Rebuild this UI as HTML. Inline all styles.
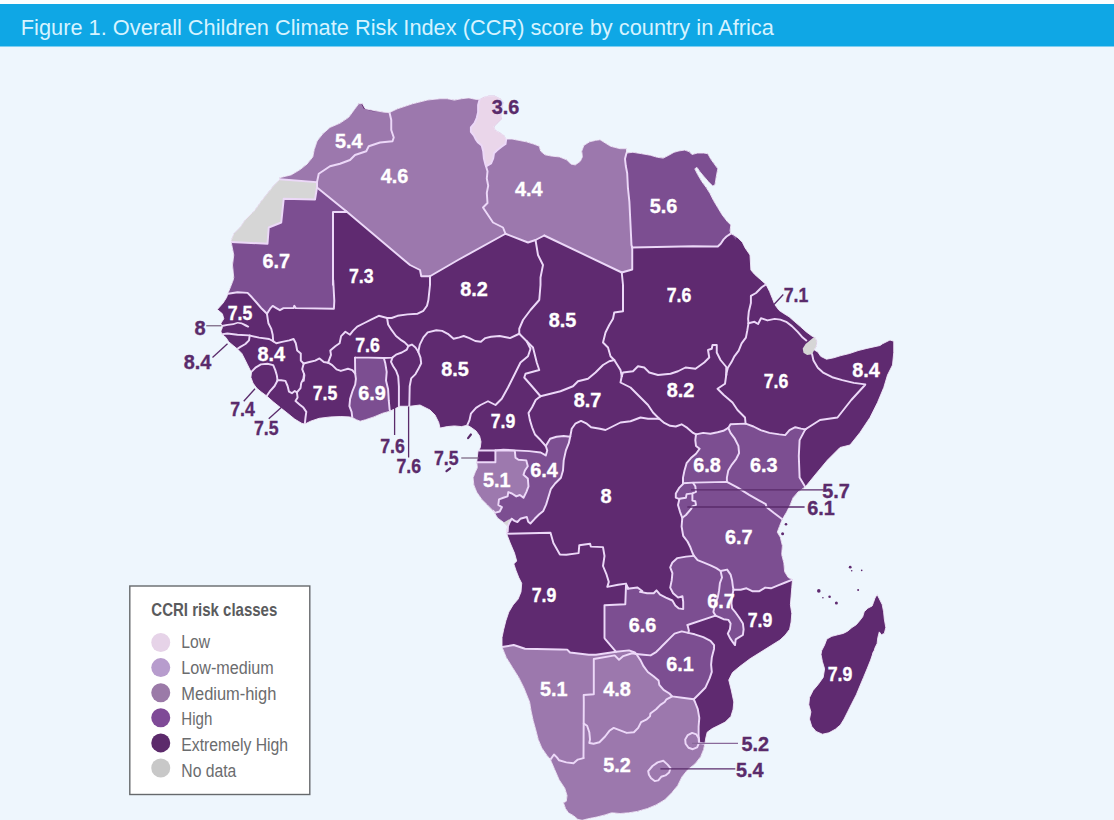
<!DOCTYPE html>
<html><head><meta charset="utf-8"><title>Figure 1</title>
<style>html,body{margin:0;padding:0;background:#eef6fd}svg{display:block}text{font-family:"Liberation Sans",sans-serif}</style></head>
<body>
<svg width="1114" height="820" viewBox="0 0 1114 820">
<rect width="1114" height="820" fill="#eef6fd"/>
<rect x="0" y="0" width="1114" height="4" fill="#fcfeff"/>
<rect x="0" y="4" width="1114" height="42.5" fill="#0fa7e5"/>
<text x="20.8" y="35" font-size="22.4" fill="#d6f3ff" textLength="753" lengthAdjust="spacingAndGlyphs" style="font-weight:400">Figure 1. Overall Children Climate Risk Index (CCR) score by country in Africa</text>
<defs><clipPath id="land"><path d="M362.4 103.6 L365.3 108.7 L371.8 110.1 L385 112.3 L389.5 112.5 L397.5 108.75 L412.5 103.75 L427.5 100 L440 98.7 L447.2 98.7 L454.4 100.1 L461.6 98.7 L468.8 97.9 L476 99.4 L479.6 99.4 L483.2 97.2 L488.9 95.8 L494.7 95.8 L500.4 98.7 L503.3 102.3 L502.6 108 L501.2 113.8 L501.9 118.8 L497.6 123.1 L494 126.7 L495.4 130.3 L499.7 132.5 L504 135.4 L506.2 139 L511.9 139 L519.1 140.4 L526.3 141.8 L533.5 144 L539.3 146.2 L540.7 151.2 L545 154.8 L552.2 156.2 L559.4 156.9 L566.6 159.8 L570.9 164.1 L575.3 164.9 L580.3 161.3 L582.4 156.9 L581.7 151.2 L583.9 145.4 L589.6 141.8 L595.4 140.4 L600 139.7 L610.5 146.25 L620 148.7 L626.5 148.7 L626.5 153 L632.9 152.3 L641.6 153.7 L650.2 155.2 L657.4 157.3 L663.2 158.1 L668.9 155.2 L674 152.3 L679 150.9 L684.7 150.1 L689.1 151.6 L691.9 154.5 L697.7 153 L703.5 153 L707.8 153.7 L710.6 158.8 L714.2 163.8 L717.8 168.8 L716.4 176 L715 184.7 L712.8 186.1 L708.5 181.8 L704.2 176.8 L699.9 171.7 L697 167.4 L694.8 168.8 L697.7 174.6 L702 181.8 L706.3 187.6 L709.9 193.3 L713.5 200.5 L717.8 207.7 L722.2 214.9 L727.2 221.4 L730.8 225 L730.1 230.7 L730.8 233.6 L733.7 235 L738 237.9 L742.3 242.2 L745.2 248 L750 255 L750.9 270 L754.5 274.3 L760.3 279.4 L766 284.4 L769.6 291.6 L772.5 298.8 L774.7 304.5 L779 310.3 L783.3 313.2 L789.1 316.8 L794.8 321.8 L800.6 326.8 L806.3 331.9 L812.1 336.2 L815 337.6 L817.1 341.2 L816.4 346.3 L814.2 349.9 L817.8 352 L820.7 356.3 L826.5 359.2 L833.7 357.8 L840.9 355.6 L849.5 353.5 L858.1 350.6 L866.8 348.4 L880 345.5 L882.5 343.75 L890 340 L893.75 341.25 L893.75 352.5 L892.5 365 L887.5 375 L883.75 387.5 L877.5 402.5 L870 417.5 L860 432.5 L850 445 L840 447.5 L827.5 460 L815 475 L805.3 486.9 L798.1 491.9 L793.1 497.7 L790.2 504.9 L786.6 512.1 L782.3 519.3 L779.4 526.5 L777.3 532.2 L780.3 537.2 L782.4 545.8 L781.7 554.5 L783.9 563.1 L784.6 571.7 L788.2 577.5 L792.5 579.6 L791.8 587.6 L791.1 596.2 L790.4 604.8 L791.8 613.5 L791.1 622.1 L789.6 629.3 L785.3 635 L780 640 L770 646.25 L760 652.5 L750 658.75 L740 666.25 L732.5 672.5 L728.75 680 L731.25 690 L733.8 702 L733.1 709.2 L730.9 716.4 L725.2 722.1 L718 725.7 L712.2 728.6 L707.2 732.2 L705.8 738 L705 743 L703.6 749.5 L700.7 756.7 L695 763.9 L687.8 769.6 L682 776.8 L677.7 785.5 L671.9 792.6 L664.7 799.8 L656.1 804.9 L647.5 808.5 L637.4 811.4 L628.8 812.8 L620.1 813.5 L611.5 812.8 L605.1 814.9 L596.5 817.1 L587.8 818.8 L582.1 820.3 L577.8 819.3 L573.5 815.7 L568.4 812.8 L565.5 808.5 L563.4 802.7 L566.3 801.3 L567 795.5 L564.8 788.3 L559.1 779.7 L554.7 769.6 L550.4 759.6 L546.8 755.2 L541.8 748 L538.2 739.4 L536 730.8 L533.2 720.7 L531 710.6 L529.6 702 L523.75 687.5 L518.75 677.5 L512.5 667.5 L506.25 657.5 L502 647 L502 637.5 L503.7 629.4 L505.9 620.7 L508.8 612.1 L513.1 604.9 L518.1 599.1 L521 591.9 L521.7 583.3 L518.8 577.6 L516 570.4 L513.8 563.9 L516.7 561 L514.5 553.1 L510.2 543 L506.6 533.7 L506.25 531.25 L507.5 526.25 L503.75 522.5 L497.6 518 L493.2 510.8 L487.5 505 L481.7 499.3 L476.7 492.1 L473.8 484.9 L473.1 477.7 L475.3 471.9 L477.4 467.6 L476.7 462.2 L478.1 450.4 L478.8 450.4 L480.3 447.5 L481 441.7 L479.6 436 L476 430.9 L470.9 427.3 L467.3 425.2 L461.6 426.6 L454.4 425.9 L447.2 426.6 L440 428.1 L438.75 422.5 L435 415 L430 410 L420 405 L410 406.25 L400 406.25 L390 411.2 L382.5 413.3 L373.9 416.9 L365.3 419.8 L360.2 421.2 L356.6 419.8 L352.3 417.6 L349.4 416.9 L340.8 416.5 L330.7 416.9 L319.2 418.3 L310.6 421.2 L304.8 424.1 L301.9 423.4 L294.7 419.1 L287.6 413.3 L280.4 407.6 L273.2 401.8 L266.7 396 L260.9 391.7 L256.6 388.1 L253 383.1 L250.9 377.3 L251.6 371.6 L250.4 370.6 L247.6 364.9 L244.7 359.1 L241.8 353.4 L237.5 349.1 L233.2 345.5 L228.8 341.9 L226 337.6 L221.7 334 L220.9 331.1 L222.4 327.5 L220.9 323.2 L223.8 318.8 L222.4 313.8 L217.3 309.5 L223.1 303 L226.7 297.3 L228.1 292.9 L231 285.8 L233.2 280 L233.75 277.5 L232.5 265 L233.75 255 L231.25 242.5 L231.25 240 L233.75 233.75 L240 227.5 L245 220 L252.5 212.5 L253.8 211.5 L261 201.5 L266.7 194.3 L272.5 187.1 L279.7 179.2 L279.7 177.7 L291.2 174.9 L299.8 169.8 L307 164.1 L312.8 156.9 L314.2 149.7 L317.1 141 L322.8 133.8 L330 127.4 L340.1 123.1 L348.7 117.3 L354.5 109.4 L358.8 103.6Z"/></clipPath></defs>
<path d="M362.4 103.6 L365.3 108.7 L371.8 110.1 L385 112.3 L389.5 112.5 L397.5 108.75 L412.5 103.75 L427.5 100 L440 98.7 L447.2 98.7 L454.4 100.1 L461.6 98.7 L468.8 97.9 L476 99.4 L479.6 99.4 L483.2 97.2 L488.9 95.8 L494.7 95.8 L500.4 98.7 L503.3 102.3 L502.6 108 L501.2 113.8 L501.9 118.8 L497.6 123.1 L494 126.7 L495.4 130.3 L499.7 132.5 L504 135.4 L506.2 139 L511.9 139 L519.1 140.4 L526.3 141.8 L533.5 144 L539.3 146.2 L540.7 151.2 L545 154.8 L552.2 156.2 L559.4 156.9 L566.6 159.8 L570.9 164.1 L575.3 164.9 L580.3 161.3 L582.4 156.9 L581.7 151.2 L583.9 145.4 L589.6 141.8 L595.4 140.4 L600 139.7 L610.5 146.25 L620 148.7 L626.5 148.7 L626.5 153 L632.9 152.3 L641.6 153.7 L650.2 155.2 L657.4 157.3 L663.2 158.1 L668.9 155.2 L674 152.3 L679 150.9 L684.7 150.1 L689.1 151.6 L691.9 154.5 L697.7 153 L703.5 153 L707.8 153.7 L710.6 158.8 L714.2 163.8 L717.8 168.8 L716.4 176 L715 184.7 L712.8 186.1 L708.5 181.8 L704.2 176.8 L699.9 171.7 L697 167.4 L694.8 168.8 L697.7 174.6 L702 181.8 L706.3 187.6 L709.9 193.3 L713.5 200.5 L717.8 207.7 L722.2 214.9 L727.2 221.4 L730.8 225 L730.1 230.7 L730.8 233.6 L733.7 235 L738 237.9 L742.3 242.2 L745.2 248 L750 255 L750.9 270 L754.5 274.3 L760.3 279.4 L766 284.4 L769.6 291.6 L772.5 298.8 L774.7 304.5 L779 310.3 L783.3 313.2 L789.1 316.8 L794.8 321.8 L800.6 326.8 L806.3 331.9 L812.1 336.2 L815 337.6 L817.1 341.2 L816.4 346.3 L814.2 349.9 L817.8 352 L820.7 356.3 L826.5 359.2 L833.7 357.8 L840.9 355.6 L849.5 353.5 L858.1 350.6 L866.8 348.4 L880 345.5 L882.5 343.75 L890 340 L893.75 341.25 L893.75 352.5 L892.5 365 L887.5 375 L883.75 387.5 L877.5 402.5 L870 417.5 L860 432.5 L850 445 L840 447.5 L827.5 460 L815 475 L805.3 486.9 L798.1 491.9 L793.1 497.7 L790.2 504.9 L786.6 512.1 L782.3 519.3 L779.4 526.5 L777.3 532.2 L780.3 537.2 L782.4 545.8 L781.7 554.5 L783.9 563.1 L784.6 571.7 L788.2 577.5 L792.5 579.6 L791.8 587.6 L791.1 596.2 L790.4 604.8 L791.8 613.5 L791.1 622.1 L789.6 629.3 L785.3 635 L780 640 L770 646.25 L760 652.5 L750 658.75 L740 666.25 L732.5 672.5 L728.75 680 L731.25 690 L733.8 702 L733.1 709.2 L730.9 716.4 L725.2 722.1 L718 725.7 L712.2 728.6 L707.2 732.2 L705.8 738 L705 743 L703.6 749.5 L700.7 756.7 L695 763.9 L687.8 769.6 L682 776.8 L677.7 785.5 L671.9 792.6 L664.7 799.8 L656.1 804.9 L647.5 808.5 L637.4 811.4 L628.8 812.8 L620.1 813.5 L611.5 812.8 L605.1 814.9 L596.5 817.1 L587.8 818.8 L582.1 820.3 L577.8 819.3 L573.5 815.7 L568.4 812.8 L565.5 808.5 L563.4 802.7 L566.3 801.3 L567 795.5 L564.8 788.3 L559.1 779.7 L554.7 769.6 L550.4 759.6 L546.8 755.2 L541.8 748 L538.2 739.4 L536 730.8 L533.2 720.7 L531 710.6 L529.6 702 L523.75 687.5 L518.75 677.5 L512.5 667.5 L506.25 657.5 L502 647 L502 637.5 L503.7 629.4 L505.9 620.7 L508.8 612.1 L513.1 604.9 L518.1 599.1 L521 591.9 L521.7 583.3 L518.8 577.6 L516 570.4 L513.8 563.9 L516.7 561 L514.5 553.1 L510.2 543 L506.6 533.7 L506.25 531.25 L507.5 526.25 L503.75 522.5 L497.6 518 L493.2 510.8 L487.5 505 L481.7 499.3 L476.7 492.1 L473.8 484.9 L473.1 477.7 L475.3 471.9 L477.4 467.6 L476.7 462.2 L478.1 450.4 L478.8 450.4 L480.3 447.5 L481 441.7 L479.6 436 L476 430.9 L470.9 427.3 L467.3 425.2 L461.6 426.6 L454.4 425.9 L447.2 426.6 L440 428.1 L438.75 422.5 L435 415 L430 410 L420 405 L410 406.25 L400 406.25 L390 411.2 L382.5 413.3 L373.9 416.9 L365.3 419.8 L360.2 421.2 L356.6 419.8 L352.3 417.6 L349.4 416.9 L340.8 416.5 L330.7 416.9 L319.2 418.3 L310.6 421.2 L304.8 424.1 L301.9 423.4 L294.7 419.1 L287.6 413.3 L280.4 407.6 L273.2 401.8 L266.7 396 L260.9 391.7 L256.6 388.1 L253 383.1 L250.9 377.3 L251.6 371.6 L250.4 370.6 L247.6 364.9 L244.7 359.1 L241.8 353.4 L237.5 349.1 L233.2 345.5 L228.8 341.9 L226 337.6 L221.7 334 L220.9 331.1 L222.4 327.5 L220.9 323.2 L223.8 318.8 L222.4 313.8 L217.3 309.5 L223.1 303 L226.7 297.3 L228.1 292.9 L231 285.8 L233.2 280 L233.75 277.5 L232.5 265 L233.75 255 L231.25 242.5 L231.25 240 L233.75 233.75 L240 227.5 L245 220 L252.5 212.5 L253.8 211.5 L261 201.5 L266.7 194.3 L272.5 187.1 L279.7 179.2 L279.7 177.7 L291.2 174.9 L299.8 169.8 L307 164.1 L312.8 156.9 L314.2 149.7 L317.1 141 L322.8 133.8 L330 127.4 L340.1 123.1 L348.7 117.3 L354.5 109.4 L358.8 103.6Z" fill="#5f2a70"/>
<path d="M877.1 594.5 L879.3 598.8 L882.2 604.6 L883.6 611.8 L884.3 619 L885.8 627.6 L884.3 633.4 L881.4 634.8 L879.3 631.9 L877.8 637.7 L877.1 643.5 L875 647.8 L872.8 655 L873.5 651.5 L870.6 660.1 L867.1 668.8 L863.5 677.4 L859.9 686 L856.3 694.7 L851.9 703.3 L847.6 711.9 L844 719.1 L840.4 724.9 L835.4 729.2 L828.9 732.8 L822.4 734.2 L816 731.4 L811.7 726.3 L809.5 719.1 L810.9 711.9 L808.8 704.7 L809.5 697.6 L813.1 690.4 L818.1 684.6 L823.2 677.4 L824.6 668.8 L822.4 661.6 L821 654.4 L821.7 650.6 L824.6 644.9 L826.8 639.1 L831.8 636.3 L837.6 634.8 L843.3 633.4 L847.6 631.2 L851.9 627.6 L856.3 624.7 L859.9 620.4 L862.7 616.8 L864.2 611.8 L867.8 608.2 L872.1 606 L873.5 602.4 L875 598.1Z" fill="#5f2a70"/>
<g clip-path="url(#land)">
<path d="M360 101.25 L363.75 108.75 L372.5 111.25 L380 111.25 L389.5 112.5 L391.25 120 L391.25 130 L393.75 137.5 L392.5 141.25 L380 142.5 L368.75 146.25 L366.25 151.25 L355 155 L350 160 L340 163.75 L330 166.25 L318.75 173.75 L317 182 L280 178.75 L275 175 L305 162.5 L315 140 L330 125 L350 115Z" fill="#9c78ad"/>
<path d="M389.5 112.5 L391.25 120 L391.25 130 L393.75 137.5 L392.5 141.25 L380 142.5 L368.75 146.25 L366.25 151.25 L355 155 L350 160 L340 163.75 L330 166.25 L318.75 173.75 L317 182 L317 187.5 L346.25 211.25 L402.5 258.75 L410 265 L420 270 L421.25 276.25 L430 276.25 L458 260 L505.5 233.75 L505.5 233.75 L503 227.5 L493 222.5 L488 215 L483 207.5 L487.5 203 L486.8 192.9 L488.2 185.7 L486.8 178.5 L487.5 171.3 L485 166.25 L486 166.3 L485.3 164.1 L483.9 158.4 L483.2 151.2 L481.7 145.4 L478.1 142.6 L476 139.7 L473.8 135.4 L470.9 131.8 L470.9 127.4 L474.5 123.1 L476.7 118.1 L478.1 112.3 L478.1 105.1 L479.6 99.4 L480.5 93.75 L458 95 L427.5 97.5 L397.5 106.25 L389.5 110Z" fill="#9c78ad"/>
<path d="M479.6 99.4 L478.1 105.1 L478.1 112.3 L476.7 118.1 L474.5 123.1 L470.9 127.4 L470.9 131.8 L473.8 135.4 L476 139.7 L478.1 142.6 L481.7 145.4 L483.2 151.2 L483.9 158.4 L485.3 164.1 L486 166.3 L486 166.3 L491.1 163.4 L493.2 158.4 L494 153.3 L496.8 150.5 L501.2 146.9 L505.5 144 L506.2 139 L508 140 L508 93.75 L480.5 93.75Z" fill="#ead6ea"/>
<path d="M506.2 139 L505.5 144 L501.2 146.9 L496.8 150.5 L494 153.3 L493.2 158.4 L491.1 163.4 L486 166.3 L487.5 171.3 L486.8 178.5 L488.2 185.7 L486.8 192.9 L487.5 203 L483 207.5 L488 215 L493 222.5 L503 227.5 L505.5 233.75 L528 242.5 L535.5 240 L544.25 235.5 L621.75 272.5 L632.25 269.5 L632.25 247.5 L632.25 247.5 L631.5 245.1 L630.8 230.7 L630.1 216.3 L629.4 201.9 L627.9 187.6 L627.2 173.2 L625.8 166 L625 158.8 L626.5 153 L626 137.5 L506 137.5Z" fill="#9c78ad"/>
<path d="M626.5 153 L625 158.8 L625.8 166 L627.2 173.2 L627.9 187.6 L629.4 201.9 L630.1 216.3 L630.8 230.7 L631.5 245.1 L632.25 247.5 L693 246.25 L712.1 246.5 L717.8 246.5 L720.7 243.7 L723.6 239.4 L726.5 236.5 L730.8 233.6 L736 240 L736 142.5 L626 142.5Z" fill="#7c4e91"/>
<path d="M280 178.75 L317 182 L317 187.5 L315 199.5 L283.75 198.75 L281.25 222.5 L268.75 227.5 L267.5 243.75 L231.25 242 L225 240 L275 175Z" fill="#d6d6d6"/>
<path d="M317 187.5 L346.25 211.25 L347 212 L333 212 L333 285 L333.2 280 L334.3 300.9 L333.9 308.8 L295.8 308.1 L294.3 305.9 L293.6 308.1 L283.5 308.1 L279.9 310.2 L276.3 308.1 L272.7 305.9 L270.6 308.1 L267 313.8 L261.9 308.8 L256.9 303 L251.9 297.3 L247.6 292.9 L237.5 292.2 L228.1 293.7 L218.8 293.7 L225 240 L231.25 242 L267.5 243.75 L268.75 227.5 L281.25 222.5 L283.75 198.75 L315 199.5Z" fill="#7c4e91"/>
<path d="M355.2 373.7 L355 357.6 L368.7 357.6 L383.8 358 L385.3 363.3 L386.7 371.9 L386 380.6 L388.1 389.2 L388.8 400.7 L389.6 409.4 L390.3 411.5 L391 420.9 L350 420.9 L351.6 411.9 L349.4 406.1 L350.1 398.9 L352.3 391.7 L355.2 384.5 L355.9 378.8Z" fill="#7c4e91"/>
<path d="M495.4 450.4 L503.3 449.6 L514.8 450.4 L529.2 451.1 L540.7 452.5 L545.8 455.4 L547.2 450.4 L545.8 446 L550.1 438.8 L556.5 436.7 L563.7 436 L570.2 436.7 L568.8 443.2 L565.9 450.4 L563.7 460.4 L563 470.5 L560.9 477.7 L555.1 483.5 L550.8 489.2 L546.2 504.4 L543.3 510.9 L539 514.5 L534.7 518.8 L530.4 523.5 L528.2 521.7 L526.8 517 L523.9 517.7 L520.3 518.8 L517.4 522 L514.5 520.9 L511.7 518.8 L495 530 L482.5 512.5 L495 480Z" fill="#7c4e91"/>
<path d="M495.4 462.2 L495.4 450.4 L496.8 450.4 L514.8 450.6 L515.5 457.6 L518.4 459.7 L526.3 460.4 L527.8 466.2 L524.9 470.5 L523.5 474.8 L527.8 478.4 L528.5 486.3 L526.3 492.1 L523.5 497.8 L519.9 495 L516.3 496.4 L511.9 493.5 L508.3 492.1 L507.6 496.4 L503.3 497.8 L499 499.3 L498.3 505 L501.9 507.2 L499.7 511.5 L494.7 512.9 L493.2 510.8 L483.2 513.7 L461.6 486.3 L468.8 462.2Z" fill="#9d79ae"/>
<path d="M503.7 522.4 L508.8 519.5 L511.7 518.8 L509.5 522.4 L508 526 L507.7 531.7 L505.9 532.4 L505.2 527.4Z" fill="#d6d6d6"/>
<path d="M696 434.4 L703.2 432.9 L710.4 433.7 L717.6 432.2 L723.3 430.8 L728.3 427.9 L730.5 424.3 L745.6 423.6 L753.5 426.5 L760.7 430.1 L769.4 432.9 L779.4 434.4 L785.2 435.1 L789.5 430.1 L795.3 427.2 L801 428.6 L805.3 429.4 L799.6 440.1 L798.8 456 L799.6 477.6 L805.3 486.9 L819.7 486.9 L782.3 520.7 L798.3 530 L798.3 579.6 L792.5 579.6 L785.3 582.5 L778.1 585.4 L770.9 588.3 L765.2 587.6 L759.4 591.2 L752.2 591.2 L746.5 588.3 L740.7 589.7 L733.5 589.7 L732.1 596.2 L731.4 603.4 L732.1 608.4 L735.7 612.7 L739.3 617.8 L742.9 623.5 L743.6 629.3 L742.9 635 L739.3 637.2 L735.7 639.4 L735 645.1 L732.8 642.2 L729.9 637.9 L727.8 633.6 L729.9 629.3 L730.6 623.5 L728.5 619.9 L723.5 619.2 L719.1 617.1 L715.5 615.6 L687.5 625 L688.9 630.7 L688.2 632.9 L694.7 634.3 L703.3 637.2 L710.5 640.8 L714.1 645.1 L714 648.9 L711.8 657.6 L711.1 664.7 L711.8 671.9 L709.6 678.4 L705.3 687.8 L698.1 695 L693.8 699.3 L682.3 697.8 L672.2 696.4 L669.4 693.5 L663.6 689.9 L659.3 684.9 L658.6 680.6 L653.5 676.3 L647.8 672 L643.5 666.2 L640.6 660.4 L636.3 654 L634.8 652.5 L629 650.4 L616.1 651.8 L605 638.8 L604.5 638 L604.5 605.2 L625.3 604.2 L626 585.5 L628.2 588.3 L637.5 587.5 L642.5 591.25 L640 591.9 L647.2 593.3 L653.7 593.3 L656.5 590.4 L660.1 594.7 L665.9 597.6 L672.4 600.5 L675.3 605.5 L678.8 608.4 L683.2 609.1 L683.2 601.9 L682.4 596.2 L678.1 597.6 L673.1 593.3 L670.2 587.6 L671.7 580.4 L672.4 573.2 L670.2 567.4 L672.4 562.4 L677.4 558.1 L686 556.6 L694 555.9 L692.5 553 L690.4 547.3 L687.5 541.5 L683.2 535.8 L681.6 526.5 L682.3 517.8 L680.1 512.1 L678 504.9 L679.4 499.1 L675.8 497.7 L675.8 493.4 L679.4 487.6 L683 484 L683 477.6 L684.5 470.4 L686.6 463.2 L690.9 458.1 L696 453.8 L699.6 448.8 L696 445.9 L695.3 440.1 L696 434.4Z" fill="#7c4e91"/>
<path d="M502 647 L513.75 645 L525 648.75 L560 649.5 L567.2 649.6 L570 652.5 L588.8 654.7 L596 654.7 L616.1 651.8 L629 650.4 L634.8 652.5 L636.3 654 L640.6 660.4 L643.5 666.2 L647.8 672 L653.5 676.3 L658.6 680.6 L659.3 684.9 L663.6 689.9 L669.4 693.5 L672.2 696.4 L682.3 697.8 L693.8 699.3 L695 702 L697.8 709.2 L699.3 717.8 L698.6 726.5 L698.6 735.1 L699.3 743 L705 743.7 L715.1 743.7 L715.1 831.5 L540 822.5 L490 647Z" fill="#9c78ad"/>
<path d="M815 337.6 L817.1 341.2 L816.4 346.3 L814.2 349.9 L812.1 354.2 L807.1 354.9 L803.5 352.7 L802.7 348.4 L805.6 344.1 L809.9 340.5 L813.5 337.6Z" fill="#d6d6d6"/>
<g fill="none" stroke="#ecd8f8" stroke-width="1.95" stroke-linejoin="round" stroke-linecap="round">
<path d="M389.5 112.5 L391.25 120 L391.25 130 L393.75 137.5 L392.5 141.25 L380 142.5 L368.75 146.25 L366.25 151.25 L355 155 L350 160 L340 163.75 L330 166.25 L318.75 173.75 L317 182"/>
<path d="M279.7 179.2 L316.4 182.1"/>
<path d="M317 182 L317 187.5 L315 199.5 L283.75 198.75 L281.25 222.5 L268.75 227.5 L267.5 243.75 L231.25 242"/>
<path d="M317 187.5 L346.25 211.25"/>
<path d="M346.25 211.25 L402.5 258.75 L410 265 L420 270 L421.25 276.25 L430 276.25"/>
<path d="M430 276.25 L458 260 L505.5 233.75"/>
<path d="M347 212 L333 212 L333 285 L333.2 280 L334.3 300.9 L333.9 308.8 L295.8 308.1 L294.3 305.9 L293.6 308.1 L283.5 308.1 L279.9 310.2 L276.3 308.1 L272.7 305.9 L270.6 308.1 L267 313.8"/>
<path d="M479.6 99.4 L478.1 105.1 L478.1 112.3 L476.7 118.1 L474.5 123.1 L470.9 127.4 L470.9 131.8 L473.8 135.4 L476 139.7 L478.1 142.6 L481.7 145.4 L483.2 151.2 L483.9 158.4 L485.3 164.1 L486 166.3"/>
<path d="M506.2 139 L505.5 144 L501.2 146.9 L496.8 150.5 L494 153.3 L493.2 158.4 L491.1 163.4 L486 166.3"/>
<path d="M486 166.3 L487.5 171.3 L486.8 178.5 L488.2 185.7 L486.8 192.9 L487.5 203 L483 207.5 L488 215 L493 222.5 L503 227.5 L505.5 233.75"/>
<path d="M505.5 233.75 L528 242.5 L535.5 240 L544.25 235.5"/>
<path d="M544.25 235.5 L621.75 272.5"/>
<path d="M621.75 272.5 L632.25 269.5 L632.25 247.5"/>
<path d="M626.5 153 L625 158.8 L625.8 166 L627.2 173.2 L627.9 187.6 L629.4 201.9 L630.1 216.3 L630.8 230.7 L631.5 245.1 L632.25 247.5"/>
<path d="M632.25 247.5 L693 246.25 L712.1 246.5 L717.8 246.5 L720.7 243.7 L723.6 239.4 L726.5 236.5 L730.8 233.6"/>
<path d="M535.5 240 L538 255 L543 265 L540.5 277.5 L540.5 285 L540.5 285 L539.25 300 L530.5 310 L523 320 L519.25 328.75 L519.25 333.75"/>
<path d="M621.75 272.5 L623 285 L623 285 L623 311.25 L614.25 312.5 L613 318.75 L609.25 325 L605.5 332.5 L603 342.5 L608 347.5 L610.5 356.25 L614.25 360"/>
<path d="M328.1 362.7 L331 354.8 L330.3 350.5 L335.3 346.2 L339.6 343.3 L341.1 336.1 L345.4 331.8 L350 334.7 L352.9 330.9 L357.2 326.6 L364.4 323 L371.6 319.4 L378.8 315.8 L387.1 318"/>
<path d="M519.25 333.75 L526.75 341.25 L530.5 348.75 L528 356.25 L520.5 362.5 L514.25 375 L508 387.5 L501.75 398.75 L495.5 405 L488 401.25 L480.5 405 L476 407.9 L470.9 413.7 L469.5 420.1 L467.3 425.2"/>
<path d="M526.75 341.25 L533 347.5 L536.75 362.5 L539.25 370 L525.5 373.75 L524.25 377.5 L533 387.5 L540.5 396.25"/>
<path d="M540.5 396.25 L550.5 393.75 L560.5 391.25 L573 386.25 L578 381.25 L588 378.75 L595.5 372.5 L603 365 L609.25 361.25 L614.25 360"/>
<path d="M614.25 360 L620.5 370 L621.75 376.25"/>
<path d="M621.75 376.25 L623 372.5 L633 371.25 L638 366.25 L644.25 367.5 L649.25 372.5 L658 375 L670.5 373.75 L678 371.25 L685.5 367.5 L695.5 368.75 L704.25 362.5 L709.25 357.5 L708 350 L711.75 348.75 L712.5 345 L716.75 345 L716.75 352.5 L720.5 360 L726.75 367.5 L726.25 367.5 L726.25 375"/>
<path d="M621.75 376.25 L620.5 382.5 L630.5 387.5 L638 395 L648 405 L653 412.5 L659.25 418.75"/>
<path d="M659.25 418.75 L648 418.75 L640.5 417.5 L630.5 421.25 L620.5 422.5 L610.5 427.5 L605.5 430 L600 428.8 L591.1 427.3 L586.8 423.7 L581 420.9 L575.3 423.7 L571.7 428.8 L570.2 436.7"/>
<path d="M726.25 375 L725 383.75 L717.5 388.75 L723.75 395 L732.5 402.5 L737.5 410 L745 417.5 L745.6 423.6"/>
<path d="M806.25 428.75 L820 420 L837.5 417.5 L851.25 400 L865 385 L865.3 384.4 L853.8 382.9 L842.3 380.1 L832.2 377.2 L823.6 372.9 L817.8 367.8 L813.5 360.6 L812.1 354.2"/>
<path d="M506.6 533.7 L550.5 532.7 L553.4 543 L559.9 554.5 L566.3 554.8 L578.6 553.1 L579.3 545.2 L590.1 543.7 L590.8 546.6 L603 547.1 L604.5 556 L603 566 L606.6 574.7 L608.8 581.9 L607.3 586.9 L618.1 584.7 L626 583.6 L628.2 588.3"/>
<path d="M502 647 L513.75 645 L525 648.75 L560 649.5 L567.2 649.6 L570 652.5 L588.8 654.7 L596 654.7 L616.1 651.8 L629 650.4 L634.8 652.5 L636.3 654"/>
<path d="M636.3 654 L640.6 660.4 L643.5 666.2 L647.8 672 L653.5 676.3 L658.6 680.6 L659.3 684.9 L663.6 689.9 L669.4 693.5 L672.2 696.4 L682.3 697.8 L693.8 699.3"/>
<path d="M583.5 758.1 L583.8 702 L583.7 695 L593.8 694.2 L593.8 659 L614.7 655.4 L619 659.7 L623.3 656.1 L632 653.2 L636.3 654"/>
<path d="M550.4 759.6 L554 754.5 L556.9 757.4 L559.1 760.3 L566.3 762.4 L573.5 763.2 L577.8 759.6 L583.5 758.1"/>
<path d="M805.3 429.4 L806.25 428.75"/>
<path d="M228.1 293.7 L237.5 292.2 L247.6 292.9 L251.9 297.3 L256.9 303 L261.9 308.8 L267 313.8"/>
<path d="M267 313.8 L267.7 318.8 L268.4 323.2 L271.3 328.9 L272.7 334.7 L273.2 341.2"/>
<path d="M220.9 334.4 L227.4 333.5 L237.5 334.7 L249 335.4 L259.1 337.6 L269.1 339 L273.2 341.2"/>
<path d="M249.7 335.4 L249 340.4 L245.4 344 L240.4 346.9 L236 349.8"/>
<path d="M273.2 341.2 L276.3 343.3 L282.1 341.9 L289.3 340.4 L293.6 339 L295.8 343.3 L297.2 350.5 L300.8 353.4 L300.8 360.6 L303.7 363.5"/>
<path d="M303.7 363.5 L302.2 369.2 L304.4 375 L303.7 380.7 L304.1 373.7 L303.4 378.8 L301.2 383.1 L300.5 388.1 L296.9 392.4"/>
<path d="M303.7 363.5 L309.4 362 L315.2 360.6 L319.5 358.4 L323.8 362 L328.1 362.7"/>
<path d="M328.1 362.7 L332.2 365.1 L336.5 369.4 L340.8 370.9 L348 368.7 L352.3 370.1 L355.2 373.7"/>
<path d="M251.6 371.6 L255.9 367.3 L260.9 364.4 L267.4 363.7 L273.2 365.1 L275.3 370.1 L276.8 375.2 L277.5 380.2"/>
<path d="M277.5 380.5 L274.6 386 L269.6 391.7 L266.7 396"/>
<path d="M277.5 380.2 L281.1 380.2 L285.4 380.9 L287.6 386 L289 391.7 L291.9 393.2 L294.7 391 L296.9 392.4"/>
<path d="M296.9 392.4 L297.6 397.5 L295.5 401.1 L299.8 404.7 L303.4 407.6 L306.3 411.9 L305.5 417.6 L304.8 424.1"/>
<path d="M352.3 417.6 L351.6 411.9 L349.4 406.1 L350.1 398.9 L352.3 391.7 L355.2 384.5 L355.9 378.8 L355.2 373.7 L355 357.6"/>
<path d="M430 276.25 L430 285 L428.4 300 L427 305.8 L423.4 310.8 L417.6 313.7 L407.6 314.4 L397.5 315.8 L391.7 318 L387.1 318"/>
<path d="M387.1 318 L388.1 324.5 L391.7 330.2 L396 336 L400.4 339.6 L404.7 342.4 L408.3 346"/>
<path d="M408.3 346 L406.8 349.6 L401.8 352.5 L396 354.7 L392.4 357.6 L383.8 358 L368.7 357.6 L355 357.6"/>
<path d="M383.8 358 L385.3 363.3 L386.7 371.9 L386 380.6 L388.1 389.2 L388.8 400.7 L389.6 409.4 L390.3 411.5"/>
<path d="M392.4 357.6 L391 361.9 L393.2 366.2 L396 370.5 L398.2 376.3 L398.9 386.3 L398.9 407.2"/>
<path d="M408.3 346 L411.9 344.6 L415.5 347.5 L418.3 351.8"/>
<path d="M418.3 351.8 L420.5 357.6 L421.2 363.3 L418.3 369.1 L415.5 374.1 L411.2 378.4 L409.7 386.3 L409.3 406.5"/>
<path d="M418.3 351.8 L419.8 344.6 L423.4 337.4 L427.7 332.4 L436.3 330.2 L442.1 330.9 L447.8 333.8 L453.6 338.8 L459.4 337.4 L463.7 336 L469.4 338.1 L475.2 341 L480.9 341.7 L485.3 338.1 L491 336.7 L499.6 336 L510 338.1 L519.25 333.75"/>
<path d="M478.8 450.4 L495.4 450.4 L503.3 449.6 L514.8 450.4 L529.2 451.1 L540.7 452.5 L545.8 455.4 L547.2 450.4 L545.8 446"/>
<path d="M495.4 450.4 L495.4 462.2 L476.7 462.2"/>
<path d="M540.5 396.25 L535.7 400 L532.1 407.2 L528.5 412.9 L529.9 420.1 L532.1 427.3 L535 434.5 L540.7 440.3 L545.8 446"/>
<path d="M545.8 446 L550.1 438.8 L556.5 436.7 L563.7 436 L570.2 436.7"/>
<path d="M570.2 436.7 L568.8 443.2 L565.9 450.4 L563.7 460.4 L563 470.5 L560.9 477.7 L555.1 483.5 L550.8 489.2 L546.2 504.4 L543.3 510.9 L539 514.5 L534.7 518.8 L530.4 523.5 L528.2 521.7 L526.8 517 L523.9 517.7 L520.3 518.8 L517.4 522 L514.5 520.9 L511.7 518.8"/>
<path d="M495.4 450.4 L496.8 450.4 L514.8 450.6 L515.5 457.6 L518.4 459.7 L526.3 460.4 L527.8 466.2 L524.9 470.5 L523.5 474.8 L527.8 478.4 L528.5 486.3 L526.3 492.1 L523.5 497.8 L519.9 495 L516.3 496.4 L511.9 493.5 L508.3 492.1 L507.6 496.4 L503.3 497.8 L499 499.3 L498.3 505 L501.9 507.2 L499.7 511.5 L494.7 512.9 L493.2 510.8"/>
<path d="M696 434.4 L703.2 432.9 L710.4 433.7 L717.6 432.2 L723.3 430.8 L728.3 427.9"/>
<path d="M728.3 427.9 L730.5 424.3 L745.6 423.6 L753.5 426.5 L760.7 430.1 L769.4 432.9 L779.4 434.4 L785.2 435.1 L789.5 430.1 L795.3 427.2 L801 428.6 L805.3 429.4"/>
<path d="M805.3 429.4 L799.6 440.1 L798.8 456 L799.6 477.6 L805.3 486.9"/>
<path d="M728.3 427.9 L730.5 432.9 L734.8 438.7 L738.4 445.9 L739.1 453.1 L736.3 458.8 L731.9 464.6 L728.3 470.4 L726.9 477.6 L726.9 481.9"/>
<path d="M683 483.3 L693.1 482.6 L726.9 481.9 L737.7 487.6 L749.2 494.8 L759.3 500.6 L765.8 504.2 L766.5 507.1 L773.7 512.8 L782.3 519.3"/>
<path d="M693.1 482.9 L695.3 486.2 L696 491.9 L692.4 493.4 L686.6 494.1 L685.9 497.7 L679.4 498.8"/>
<path d="M692.4 493.4 L692.4 500.6 L695.3 501.3 L696 504.9 L692.4 506.3 L690.9 509.2 L685.9 515 L682.3 517.8"/>
<path d="M659.25 418.75 L664.3 422.9 L670.1 425.8 L675.8 426.5 L681.6 424.3 L687.3 427.9 L693.1 432.9 L696 434.4"/>
<path d="M792.5 579.6 L785.3 582.5 L778.1 585.4 L770.9 588.3 L765.2 587.6 L759.4 591.2 L752.2 591.2 L746.5 588.3 L740.7 589.7 L733.5 589.7"/>
<path d="M733.5 589.7 L732.1 596.2 L731.4 603.4 L732.1 608.4 L735.7 612.7 L739.3 617.8 L742.9 623.5 L743.6 629.3 L742.9 635 L739.3 637.2 L735.7 639.4 L735 645.1 L732.8 642.2 L729.9 637.9 L727.8 633.6 L729.9 629.3 L730.6 623.5 L728.5 619.9 L723.5 619.2 L719.1 617.1 L715.5 615.6"/>
<path d="M715.5 615.6 L687.5 625"/>
<path d="M687.5 625 L688.9 630.7 L688.2 632.9 L694.7 634.3 L703.3 637.2 L710.5 640.8 L714.1 645.1 L714 648.9 L711.8 657.6 L711.1 664.7 L711.8 671.9 L709.6 678.4 L705.3 687.8 L698.1 695 L693.8 699.3"/>
<path d="M616.1 651.8 L605 638.8 L604.5 638 L604.5 605.2 L625.3 604.2 L626 585.5 L628.2 588.3"/>
<path d="M627.5 588.75 L637.5 587.5 L642.5 591.25 L640 591.9 L647.2 593.3 L653.7 593.3 L656.5 590.4 L660.1 594.7 L665.9 597.6 L672.4 600.5 L675.3 605.5 L678.8 608.4 L683.2 609.1 L683.2 601.9 L682.4 596.2 L678.1 597.6 L673.1 593.3 L670.2 587.6 L671.7 580.4 L672.4 573.2 L670.2 567.4 L672.4 562.4 L677.4 558.1 L686 556.6 L694 555.9"/>
<path d="M694 555.9 L692.5 553 L690.4 547.3 L687.5 541.5 L683.2 535.8 L681.6 526.5 L682.3 517.8 L680.1 512.1 L678 504.9 L679.4 499.1 L675.8 497.7 L675.8 493.4 L679.4 487.6 L683 484 L683 477.6 L684.5 470.4 L686.6 463.2 L690.9 458.1 L696 453.8 L699.6 448.8 L696 445.9 L695.3 440.1 L696 434.4"/>
<path d="M694 555.9 L697.6 560.2 L703.3 562.4 L710.5 565.3 L716.3 568.1 L720.6 571 L727.1 569.6 L730.6 574.6 L732.1 580.4 L732.8 586.1 L733.5 589.7"/>
<path d="M720.6 571 L722 577.5 L719.9 583.2 L719.1 590.4 L717.7 597.6 L714.8 604.8 L713.4 612 L715.5 615.6"/>
<path d="M636.3 654 L643.5 654.7 L650.6 655.4 L656.4 651.8 L660.7 647.5 L661.6 646.5 L665.9 642.2 L670.2 637.9 L674.5 633.6 L681.7 631.4 L688.2 632.9"/>
<path d="M766 284.4 L761.7 287.3 L756 293 L750.9 295.9 L750.9 303.1 L748.8 311.7 L748.1 318.9 L748.5 323.2"/>
<path d="M748.5 323.2 L754.5 321.8 L758.1 324 L761 318.2 L767.5 320.4 L774.7 318.9 L780.4 319.6 L786.2 321.8 L791.9 326.1 L797.7 331.9 L802.7 337.6 L806.3 340.5"/>
<path d="M748.5 323.2 L747.3 330.4 L745.9 337.6 L741.6 343.4 L738.7 350.6 L734.4 356.3 L731.5 362.1 L727.9 367.8 L726.5 372.9 L726.25 375"/>
<path d="M693.8 699.3 L695 702 L697.8 709.2 L699.3 717.8 L698.6 726.5 L698.6 735.1 L699.3 743 L705 743.7"/>
<path d="M692.1 732.9 L696.4 734.4 L698.6 738 L699 743 L697.1 747.3 L692.8 749.2 L688.5 747.8 L685.6 743.7 L685.2 739.4 L687.8 735.1 L692.1 732.9"/>
<path d="M648.2 771.1 L652.5 766 L657.6 762.4 L663.3 760.7 L667.6 764.6 L670.5 768.2 L669.1 772.5 L665.5 775.4 L661.2 776.8 L658.3 780.4 L654.7 781.1 L651.1 778.3 L648.9 774.7 L648.2 771.1"/>
<path d="M672.2 696.4 L666.5 699.3 L664.7 702 L660.4 704.9 L656.1 709.2 L650.4 713.5 L650 716.4 L646.8 719.3 L641.1 722.1 L638.2 727.9 L633.9 732.2 L626.7 732.9 L619.5 730.1 L613.7 727.9 L609.4 730.8 L605.1 736.5 L599.4 742.3 L593.6 743.7 L589.3 743 L590 739.4 L589.3 732.2 L587.1 725.7 L583.8 723.6"/>
<path d="M511.7 518.8 L509.5 522.4 L508 526 L507.7 531.7 L505.9 532.4"/>
</g>
<path d="M221.7 324.9 L227.4 324 L233.2 323.2 L237.5 321.9 L241.8 322.6 L246.4 324.6 L249.3 326.3 L248.3 327.8 L245.4 326.6 L241.5 324.3 L237.8 323.5 L233.5 324.9 L227.7 325.8 L221.9 326.9Z" fill="#ecd8f8"/>
</g>
<path d="M362.4 103.6 L365.3 108.7 L371.8 110.1 L385 112.3 L389.5 112.5 L397.5 108.75 L412.5 103.75 L427.5 100 L440 98.7 L447.2 98.7 L454.4 100.1 L461.6 98.7 L468.8 97.9 L476 99.4 L479.6 99.4 L483.2 97.2 L488.9 95.8 L494.7 95.8 L500.4 98.7 L503.3 102.3 L502.6 108 L501.2 113.8 L501.9 118.8 L497.6 123.1 L494 126.7 L495.4 130.3 L499.7 132.5 L504 135.4 L506.2 139 L511.9 139 L519.1 140.4 L526.3 141.8 L533.5 144 L539.3 146.2 L540.7 151.2 L545 154.8 L552.2 156.2 L559.4 156.9 L566.6 159.8 L570.9 164.1 L575.3 164.9 L580.3 161.3 L582.4 156.9 L581.7 151.2 L583.9 145.4 L589.6 141.8 L595.4 140.4 L600 139.7 L610.5 146.25 L620 148.7 L626.5 148.7 L626.5 153 L632.9 152.3 L641.6 153.7 L650.2 155.2 L657.4 157.3 L663.2 158.1 L668.9 155.2 L674 152.3 L679 150.9 L684.7 150.1 L689.1 151.6 L691.9 154.5 L697.7 153 L703.5 153 L707.8 153.7 L710.6 158.8 L714.2 163.8 L717.8 168.8 L716.4 176 L715 184.7 L712.8 186.1 L708.5 181.8 L704.2 176.8 L699.9 171.7 L697 167.4 L694.8 168.8 L697.7 174.6 L702 181.8 L706.3 187.6 L709.9 193.3 L713.5 200.5 L717.8 207.7 L722.2 214.9 L727.2 221.4 L730.8 225 L730.1 230.7 L730.8 233.6 L733.7 235 L738 237.9 L742.3 242.2 L745.2 248 L750 255 L750.9 270 L754.5 274.3 L760.3 279.4 L766 284.4 L769.6 291.6 L772.5 298.8 L774.7 304.5 L779 310.3 L783.3 313.2 L789.1 316.8 L794.8 321.8 L800.6 326.8 L806.3 331.9 L812.1 336.2 L815 337.6 L817.1 341.2 L816.4 346.3 L814.2 349.9 L817.8 352 L820.7 356.3 L826.5 359.2 L833.7 357.8 L840.9 355.6 L849.5 353.5 L858.1 350.6 L866.8 348.4 L880 345.5 L882.5 343.75 L890 340 L893.75 341.25 L893.75 352.5 L892.5 365 L887.5 375 L883.75 387.5 L877.5 402.5 L870 417.5 L860 432.5 L850 445 L840 447.5 L827.5 460 L815 475 L805.3 486.9 L798.1 491.9 L793.1 497.7 L790.2 504.9 L786.6 512.1 L782.3 519.3 L779.4 526.5 L777.3 532.2 L780.3 537.2 L782.4 545.8 L781.7 554.5 L783.9 563.1 L784.6 571.7 L788.2 577.5 L792.5 579.6 L791.8 587.6 L791.1 596.2 L790.4 604.8 L791.8 613.5 L791.1 622.1 L789.6 629.3 L785.3 635 L780 640 L770 646.25 L760 652.5 L750 658.75 L740 666.25 L732.5 672.5 L728.75 680 L731.25 690 L733.8 702 L733.1 709.2 L730.9 716.4 L725.2 722.1 L718 725.7 L712.2 728.6 L707.2 732.2 L705.8 738 L705 743 L703.6 749.5 L700.7 756.7 L695 763.9 L687.8 769.6 L682 776.8 L677.7 785.5 L671.9 792.6 L664.7 799.8 L656.1 804.9 L647.5 808.5 L637.4 811.4 L628.8 812.8 L620.1 813.5 L611.5 812.8 L605.1 814.9 L596.5 817.1 L587.8 818.8 L582.1 820.3 L577.8 819.3 L573.5 815.7 L568.4 812.8 L565.5 808.5 L563.4 802.7 L566.3 801.3 L567 795.5 L564.8 788.3 L559.1 779.7 L554.7 769.6 L550.4 759.6 L546.8 755.2 L541.8 748 L538.2 739.4 L536 730.8 L533.2 720.7 L531 710.6 L529.6 702 L523.75 687.5 L518.75 677.5 L512.5 667.5 L506.25 657.5 L502 647 L502 637.5 L503.7 629.4 L505.9 620.7 L508.8 612.1 L513.1 604.9 L518.1 599.1 L521 591.9 L521.7 583.3 L518.8 577.6 L516 570.4 L513.8 563.9 L516.7 561 L514.5 553.1 L510.2 543 L506.6 533.7 L506.25 531.25 L507.5 526.25 L503.75 522.5 L497.6 518 L493.2 510.8 L487.5 505 L481.7 499.3 L476.7 492.1 L473.8 484.9 L473.1 477.7 L475.3 471.9 L477.4 467.6 L476.7 462.2 L478.1 450.4 L478.8 450.4 L480.3 447.5 L481 441.7 L479.6 436 L476 430.9 L470.9 427.3 L467.3 425.2 L461.6 426.6 L454.4 425.9 L447.2 426.6 L440 428.1 L438.75 422.5 L435 415 L430 410 L420 405 L410 406.25 L400 406.25 L390 411.2 L382.5 413.3 L373.9 416.9 L365.3 419.8 L360.2 421.2 L356.6 419.8 L352.3 417.6 L349.4 416.9 L340.8 416.5 L330.7 416.9 L319.2 418.3 L310.6 421.2 L304.8 424.1 L301.9 423.4 L294.7 419.1 L287.6 413.3 L280.4 407.6 L273.2 401.8 L266.7 396 L260.9 391.7 L256.6 388.1 L253 383.1 L250.9 377.3 L251.6 371.6 L250.4 370.6 L247.6 364.9 L244.7 359.1 L241.8 353.4 L237.5 349.1 L233.2 345.5 L228.8 341.9 L226 337.6 L221.7 334 L220.9 331.1 L222.4 327.5 L220.9 323.2 L223.8 318.8 L222.4 313.8 L217.3 309.5 L223.1 303 L226.7 297.3 L228.1 292.9 L231 285.8 L233.2 280 L233.75 277.5 L232.5 265 L233.75 255 L231.25 242.5 L231.25 240 L233.75 233.75 L240 227.5 L245 220 L252.5 212.5 L253.8 211.5 L261 201.5 L266.7 194.3 L272.5 187.1 L279.7 179.2 L279.7 177.7 L291.2 174.9 L299.8 169.8 L307 164.1 L312.8 156.9 L314.2 149.7 L317.1 141 L322.8 133.8 L330 127.4 L340.1 123.1 L348.7 117.3 L354.5 109.4 L358.8 103.6Z" fill="none" stroke="#f3ebfb" stroke-width="0.9" stroke-linejoin="round"/>
<path d="M877.1 594.5 L879.3 598.8 L882.2 604.6 L883.6 611.8 L884.3 619 L885.8 627.6 L884.3 633.4 L881.4 634.8 L879.3 631.9 L877.8 637.7 L877.1 643.5 L875 647.8 L872.8 655 L873.5 651.5 L870.6 660.1 L867.1 668.8 L863.5 677.4 L859.9 686 L856.3 694.7 L851.9 703.3 L847.6 711.9 L844 719.1 L840.4 724.9 L835.4 729.2 L828.9 732.8 L822.4 734.2 L816 731.4 L811.7 726.3 L809.5 719.1 L810.9 711.9 L808.8 704.7 L809.5 697.6 L813.1 690.4 L818.1 684.6 L823.2 677.4 L824.6 668.8 L822.4 661.6 L821 654.4 L821.7 650.6 L824.6 644.9 L826.8 639.1 L831.8 636.3 L837.6 634.8 L843.3 633.4 L847.6 631.2 L851.9 627.6 L856.3 624.7 L859.9 620.4 L862.7 616.8 L864.2 611.8 L867.8 608.2 L872.1 606 L873.5 602.4 L875 598.1Z" fill="none" stroke="#f3ebfb" stroke-width="0.9" stroke-linejoin="round"/>
<circle cx="850.2" cy="567.2" r="1.4" fill="#5f2a70"/>
<circle cx="851.7" cy="570.8" r="0.8" fill="#5f2a70"/>
<circle cx="861.7" cy="570.4" r="0.8" fill="#5f2a70"/>
<circle cx="818.8" cy="590.9" r="1.8" fill="#5f2a70"/>
<circle cx="822.9" cy="597.7" r="0.8" fill="#5f2a70"/>
<circle cx="829.6" cy="596.7" r="1.3" fill="#5f2a70"/>
<circle cx="836.4" cy="602.9" r="1.5" fill="#5f2a70"/>
<circle cx="858.1" cy="589.9" r="1.0" fill="#5f2a70"/>
<circle cx="786.0" cy="524.3" r="1.3" fill="#5f2a70"/>
<circle cx="782.6" cy="533.7" r="1.5" fill="#5f2a70"/>
<g stroke-width="1.3" fill="none">
<path d="M206.25 325.75 L221.25 325.75" stroke="#7d6a86"/>
<path d="M212.5 357.5 L227.5 343.75" stroke="#5a2b6b"/>
<path d="M243.75 401.25 L255 388.75" stroke="#5a2b6b"/>
<path d="M268.75 418.75 L281.25 407.5" stroke="#5a2b6b"/>
<path d="M394.6 408 L394.6 435" stroke="#5a2b6b"/>
<path d="M408.6 406.5 L408.6 457.5" stroke="#5a2b6b"/>
<path d="M461.25 458 L478.75 458" stroke="#7d6a86"/>
<path d="M691 489.8 L823.75 489.8" stroke="#5a2b6b"/>
<path d="M687.3 507 L804.6 507" stroke="#5a2b6b"/>
<path d="M783.3 294.5 L774 304.5" stroke="#5a2b6b"/>
<path d="M692 743.4 L738 743.4" stroke="#8a6a9b"/>
<path d="M660.4 768.9 L735.3 768.9" stroke="#5a2b6b"/>
<path d="M468.1 438.1 L470.9 434.5" stroke="#5a2b6b" stroke-width="2.2" stroke-linecap="round"/>
<path d="M446.5 471.2 L450.1 468.3" stroke="#5a2b6b" stroke-width="2.2" stroke-linecap="round"/>
</g>
<g font-size="20" font-weight="700" fill="#fff" stroke="#fff" stroke-width="0.35">
<text x="334.95" y="147.5" textLength="27.6" lengthAdjust="spacingAndGlyphs">5.4</text>
<text x="380.7" y="183.25" textLength="27.6" lengthAdjust="spacingAndGlyphs">4.6</text>
<text x="262.45" y="268.25" textLength="27.6" lengthAdjust="spacingAndGlyphs">6.7</text>
<text x="348.95" y="283.25" textLength="24.6" lengthAdjust="spacingAndGlyphs">7.3</text>
<text x="514.95" y="195.75" textLength="27.6" lengthAdjust="spacingAndGlyphs">4.4</text>
<text x="649.7" y="212.5" textLength="27.6" lengthAdjust="spacingAndGlyphs">5.6</text>
<text x="227.7" y="319.5" textLength="24.6" lengthAdjust="spacingAndGlyphs">7.5</text>
<text x="257.45" y="360.75" textLength="27.6" lengthAdjust="spacingAndGlyphs">8.4</text>
<text x="312.7" y="400" textLength="24.6" lengthAdjust="spacingAndGlyphs">7.5</text>
<text x="355.2" y="352" textLength="24.6" lengthAdjust="spacingAndGlyphs">7.6</text>
<text x="358.2" y="399.5" textLength="27.6" lengthAdjust="spacingAndGlyphs">6.9</text>
<text x="460.2" y="296" textLength="27.6" lengthAdjust="spacingAndGlyphs">8.2</text>
<text x="548.7" y="327" textLength="27.6" lengthAdjust="spacingAndGlyphs">8.5</text>
<text x="441.2" y="376" textLength="27.6" lengthAdjust="spacingAndGlyphs">8.5</text>
<text x="666.7" y="302" textLength="24.6" lengthAdjust="spacingAndGlyphs">7.6</text>
<text x="573.7" y="406.5" textLength="27.6" lengthAdjust="spacingAndGlyphs">8.7</text>
<text x="666.7" y="397" textLength="27.6" lengthAdjust="spacingAndGlyphs">8.2</text>
<text x="490.7" y="428" textLength="24.6" lengthAdjust="spacingAndGlyphs">7.9</text>
<text x="482.95" y="487" textLength="27.6" lengthAdjust="spacingAndGlyphs">5.1</text>
<text x="530.2" y="477" textLength="27.6" lengthAdjust="spacingAndGlyphs">6.4</text>
<text x="763.7" y="388" textLength="24.6" lengthAdjust="spacingAndGlyphs">7.6</text>
<text x="852.2" y="377" textLength="27.6" lengthAdjust="spacingAndGlyphs">8.4</text>
<text x="693.2" y="472" textLength="27.6" lengthAdjust="spacingAndGlyphs">6.8</text>
<text x="749.95" y="472" textLength="27.6" lengthAdjust="spacingAndGlyphs">6.3</text>
<text x="724.95" y="544" textLength="27.6" lengthAdjust="spacingAndGlyphs">6.7</text>
<text x="707.2" y="608" textLength="27.6" lengthAdjust="spacingAndGlyphs">6.7</text>
<text x="600.45" y="502.5" textLength="11.1" lengthAdjust="spacingAndGlyphs">8</text>
<text x="531.7" y="601.5" textLength="24.6" lengthAdjust="spacingAndGlyphs">7.9</text>
<text x="628.7" y="631.5" textLength="27.6" lengthAdjust="spacingAndGlyphs">6.6</text>
<text x="539.95" y="695.75" textLength="27.6" lengthAdjust="spacingAndGlyphs">5.1</text>
<text x="603.2" y="695.75" textLength="27.6" lengthAdjust="spacingAndGlyphs">4.8</text>
<text x="603.2" y="772" textLength="27.6" lengthAdjust="spacingAndGlyphs">5.2</text>
<text x="666.2" y="670.75" textLength="27.6" lengthAdjust="spacingAndGlyphs">6.1</text>
<text x="747.7" y="626.5" textLength="24.6" lengthAdjust="spacingAndGlyphs">7.9</text>
<text x="827.7" y="680.75" textLength="24.6" lengthAdjust="spacingAndGlyphs">7.9</text>
</g>
<g font-size="20" font-weight="700" fill="#5a2b6b" stroke="#5a2b6b" stroke-width="0.35">
<text x="491.7" y="114" textLength="27.6" lengthAdjust="spacingAndGlyphs">3.6</text>
<text x="194.45" y="335" textLength="11.1" lengthAdjust="spacingAndGlyphs">8</text>
<text x="183.7" y="369" textLength="27.6" lengthAdjust="spacingAndGlyphs">8.4</text>
<text x="230.2" y="416.25" textLength="24.6" lengthAdjust="spacingAndGlyphs">7.4</text>
<text x="253.95" y="434.5" textLength="24.6" lengthAdjust="spacingAndGlyphs">7.5</text>
<text x="380.2" y="453.25" textLength="24.6" lengthAdjust="spacingAndGlyphs">7.6</text>
<text x="396.45" y="473.25" textLength="24.6" lengthAdjust="spacingAndGlyphs">7.6</text>
<text x="433.95" y="464.5" textLength="24.6" lengthAdjust="spacingAndGlyphs">7.5</text>
<text x="783.7" y="302" textLength="24.6" lengthAdjust="spacingAndGlyphs">7.1</text>
<text x="822.2" y="498" textLength="27.6" lengthAdjust="spacingAndGlyphs">5.7</text>
<text x="807.2" y="515" textLength="27.6" lengthAdjust="spacingAndGlyphs">6.1</text>
<text x="741.5" y="751.4" textLength="27.6" lengthAdjust="spacingAndGlyphs">5.2</text>
<text x="736" y="776.6" textLength="27.6" lengthAdjust="spacingAndGlyphs">5.4</text>
</g>
<rect x="129.8" y="586" width="180" height="208.5" fill="#fff" stroke="#66696c" stroke-width="1.4"/>
<text x="151.3" y="615.9" font-size="19" font-weight="700" fill="#5a5b5d" textLength="126" lengthAdjust="spacingAndGlyphs">CCRI risk classes</text>
<circle cx="160.75" cy="642.5" r="9.5" fill="#e6d3e8"/>
<text x="181.3" y="648.3" font-size="18.3" fill="#6b6c6e" textLength="28.75" lengthAdjust="spacingAndGlyphs">Low</text>
<circle cx="160.75" cy="667.6" r="9.5" fill="#b79ccd"/>
<text x="181.3" y="674.02" font-size="18.3" fill="#6b6c6e" textLength="92.5" lengthAdjust="spacingAndGlyphs">Low-medium</text>
<circle cx="160.75" cy="692.7" r="9.5" fill="#9b7aa8"/>
<text x="181.3" y="699.74" font-size="18.3" fill="#6b6c6e" textLength="95" lengthAdjust="spacingAndGlyphs">Medium-high</text>
<circle cx="160.75" cy="717.8" r="9.5" fill="#7f4a97"/>
<text x="181.3" y="725.46" font-size="18.3" fill="#6b6c6e" textLength="31" lengthAdjust="spacingAndGlyphs">High</text>
<circle cx="160.75" cy="742.9" r="9.5" fill="#5c2a6b"/>
<text x="181.3" y="751.18" font-size="18.3" fill="#6b6c6e" textLength="106.75" lengthAdjust="spacingAndGlyphs">Extremely High</text>
<circle cx="160.75" cy="768" r="9.5" fill="#c8c8c8"/>
<text x="181.3" y="776.9" font-size="18.3" fill="#6b6c6e" textLength="55" lengthAdjust="spacingAndGlyphs">No data</text>
</svg></body></html>
